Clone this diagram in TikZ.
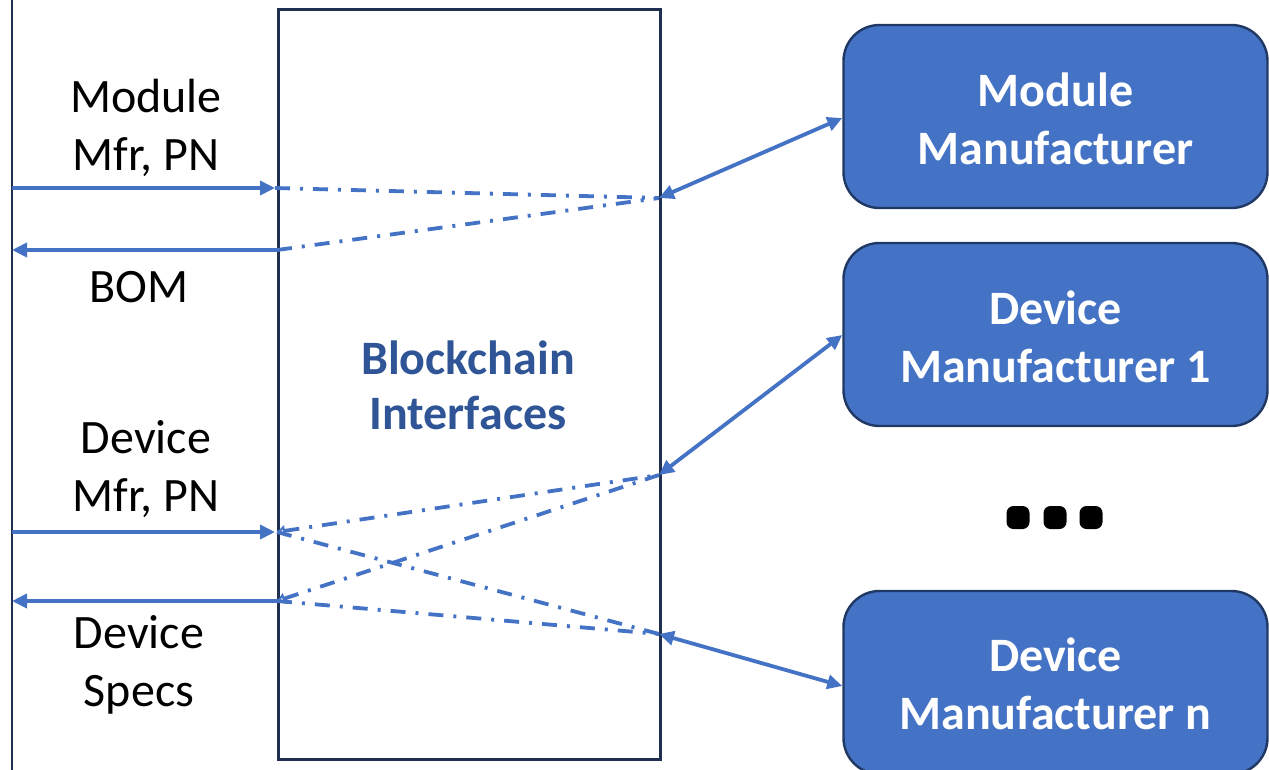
\documentclass[tikz,border=0pt]{standalone}
\usepackage{fontspec}
\setmainfont{Carlito}
\usetikzlibrary{arrows.meta}
\definecolor{linkblue}{HTML}{4472C4}
\definecolor{navy}{HTML}{1F2F4F}
\definecolor{boxedge}{HTML}{203864}
\definecolor{titleblue}{HTML}{2F5597}
\tikzset{
  frameline/.style={draw=navy, line width=2.6pt},
  flow/.style={draw=linkblue, line width=3.8pt, -{Triangle[length=15pt,width=14pt]}},
  twoway/.style={draw=linkblue, line width=3.8pt, {Triangle[length=15pt,width=14pt]}-{Triangle[length=15pt,width=14pt]}},
  query/.style={draw=linkblue, line width=3.8pt, dash pattern=on 15pt off 10pt on 3pt off 10pt},
  queryhead/.style={query, {Triangle[length=8pt,width=11pt,open,line width=2.5pt]}-},
  party/.style={draw=boxedge, line width=2.4pt, fill=linkblue, rounded corners=36pt,
    minimum width=424pt, minimum height=183pt, inner sep=0pt},
  partytext/.style={text=white, font=\bfseries\fontsize{48}{58}\selectfont, align=center},
  sidelabel/.style={font=\fontsize{48}{57.5}\selectfont, align=center, text=black},
  dotmark/.style={fill=black, rounded corners=7pt}
}
\begin{document}
\begin{tikzpicture}[x=1pt, y=-1pt]
\useasboundingbox (0,0) rectangle (1269,769);
\clip (0,0) rectangle (1269,769);
\fill[white] (0,0) rectangle (1269,769);

% left system boundary
\coordinate (lt) at (12,-5);
\coordinate (lb) at (12,775);
\draw[frameline] (lt) -- (lb);

% blockchain interface block
\node[frameline, minimum width=382pt, minimum height=750pt, inner sep=0pt, anchor=north west]
  (bc) at (277,8) {};
\node[font=\bfseries\fontsize{48}{55}\selectfont, text=titleblue, align=center]
  (bctext) at (468,385) {Blockchain\\Interfaces};

% participants
\node[party] (mm) at (1055.5,116.5) {};
\node[partytext] at (1055.5,119) {Module\\Manufacturer};
\node[party] (dm1) at (1055.5,334.5) {};
\node[partytext] at (1055.5,337) {Device\\Manufacturer 1};
\node[party] (dmn) at (1055.5,682.5) {};
\node[partytext] at (1055.5,684) {Device\\Manufacturer n};

% ellipsis between participants
\foreach \cx in {1018,1055,1091}
  \fill[dotmark] (\cx-11.5,506) rectangle (\cx+11.5,529);

% attachment points on the left boundary and on the block
\coordinate (inA) at (12,188);  \coordinate (inAe) at (275,188);
\coordinate (outA) at (277,250); \coordinate (outAe) at (12,250);
\coordinate (inB) at (12,532);  \coordinate (inBe) at (275,532);
\coordinate (outB) at (277,601); \coordinate (outBe) at (12,601);
\coordinate (pA) at (659,198);
\coordinate (pB) at (659,475);
\coordinate (pN) at (659,634);

% requests and replies
\draw[flow] (inA) -- (inAe);
\draw[flow] (outA) -- (outAe);
\draw[flow] (inB) -- (inBe);
\draw[flow] (outB) -- (outBe);

% routing through the interfaces
\draw[query] (inAe) -- (pA);
\draw[query] (outA) -- (pA);
\draw[queryhead] (277,532) -- (pB);
\draw[query] (277,532) -- (pN);
\draw[queryhead] (outB) -- (pB);
\draw[query] (outB) -- (pN);

% links to participants
\draw[twoway] (pA) -- (mm.west |- 0,118);
\draw[twoway] (pB) -- (dm1.west |- 0,335);
\draw[twoway] (pN) -- (dmn.west |- 0,686);

% labels
\node[sidelabel] (l1) at (146,128) {Module\\Mfr, PN};
\node[sidelabel] (l2) at (139,287) {BOM};
\node[sidelabel] (l3) at (146,469) {Device\\Mfr, PN};
\node[sidelabel] (l4) at (139,665) {Device\\Specs};
\end{tikzpicture}
\end{document}
